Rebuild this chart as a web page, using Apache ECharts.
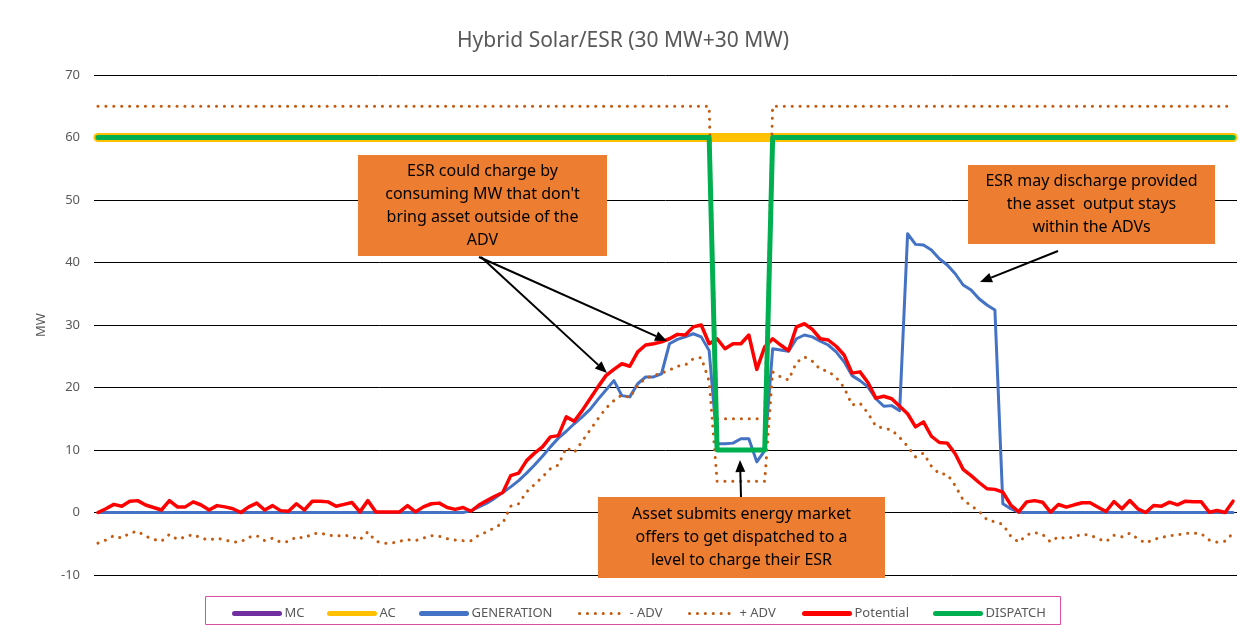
<!DOCTYPE html>
<html>
<head>
<meta charset="utf-8">
<title>Hybrid Solar/ESR</title>
<script src="https://cdn.jsdelivr.net/npm/echarts@6/dist/echarts.min.js"></script>
<style>
html, body { margin: 0; padding: 0; background: #fff; }
#chart { width: 1246px; height: 628px; }
</style>
</head>
<body>
<div id="chart"></div>
<script>
// 144 ten-minute intervals of one day
const categories = [];
for (let h = 0; h < 24; h++) {
  for (let m = 0; m < 60; m += 10) {
    categories.push(String(h).padStart(2, '0') + ':' + String(m).padStart(2, '0'));
  }
}

const mc = [
  60,60,60,60,60,60,60,60,60,60,60,60,60,60,60,60,60,60,60,60,60,60,60,60,
  60,60,60,60,60,60,60,60,60,60,60,60,60,60,60,60,60,60,60,60,60,60,60,60,
  60,60,60,60,60,60,60,60,60,60,60,60,60,60,60,60,60,60,60,60,60,60,60,60,
  60,60,60,60,60,60,60,60,60,60,60,60,60,60,60,60,60,60,60,60,60,60,60,60,
  60,60,60,60,60,60,60,60,60,60,60,60,60,60,60,60,60,60,60,60,60,60,60,60,
  60,60,60,60,60,60,60,60,60,60,60,60,60,60,60,60,60,60,60,60,60,60,60,60
];
const ac = [
  60,60,60,60,60,60,60,60,60,60,60,60,60,60,60,60,60,60,60,60,60,60,60,60,
  60,60,60,60,60,60,60,60,60,60,60,60,60,60,60,60,60,60,60,60,60,60,60,60,
  60,60,60,60,60,60,60,60,60,60,60,60,60,60,60,60,60,60,60,60,60,60,60,60,
  60,60,60,60,60,60,60,60,60,60,60,60,60,60,60,60,60,60,60,60,60,60,60,60,
  60,60,60,60,60,60,60,60,60,60,60,60,60,60,60,60,60,60,60,60,60,60,60,60,
  60,60,60,60,60,60,60,60,60,60,60,60,60,60,60,60,60,60,60,60,60,60,60,60
];
const generation = [
  0,0,0,0,0,0,0,0,0,0,0,0,0,0,0,0,0,0,0,0,0,0,0,0,
  0,0,0,0,0,0,0,0,0,0,0,0,0,0,0,0,0,0,0,0,0,0,0,0.3,
  0.9,1.5,2.3,3.2,4.1,5.1,6.3,7.6,9.0,10.5,11.9,13.0,14.2,15.3,16.5,18.1,19.6,21.1,18.7,18.5,20.6,21.7,21.7,22.2,
  27.0,27.7,28.1,28.6,28.1,25.9,11.0,11.0,11.1,11.8,11.8,8.1,9.9,26.2,26.0,25.8,27.8,28.4,28.1,27.4,26.8,25.7,24.1,21.9,
  21.1,20.1,18.2,17.0,17.1,16.3,44.6,42.9,42.8,42.0,40.6,39.6,38.2,36.4,35.6,34.2,33.2,32.4,1.4,0.6,0,0,0,0,
  0,0,0,0,0,0,0,0,0,0,0,0,0,0,0,0,0,0,0,0,0,0,0,0
];
const minusAdv = [
  -4.9,-4.4,-3.7,-4.1,-3.3,-3.0,-3.8,-4.3,-4.6,-3.5,-4.3,-3.9,-3.5,-4.1,-4.4,-4.1,-4.4,-4.7,-4.7,-3.95,-3.7,-4.5,-4.1,-4.75,
  -4.65,-3.9,-4.1,-3.4,-3.3,-3.6,-3.8,-3.6,-3.9,-4.35,-3.1,-4.6,-4.9,-4.9,-4.6,-4.35,-4.5,-4.1,-3.7,-3.8,-4.2,-4.4,-4.5,-4.5,
  -3.6,-3.1,-2.4,-1.7,1.0,1.4,3.3,4.5,5.7,7.0,7.6,10.4,9.6,11.4,13.2,15.0,16.7,17.9,18.8,18.4,20.3,21.5,21.9,22.3,
  22.8,23.4,23.6,24.6,24.8,21.0,5,5,5,5,5,5,5,22.5,21.7,21.2,24.0,24.9,24.2,22.9,22.6,21.6,20.0,17.2,
  17.5,15.9,13.8,13.5,13.2,12.0,10.6,8.9,9.5,7.4,6.2,6.1,4.3,2.0,1.1,0.2,-1.15,-1.5,-1.9,-3.8,-4.75,-3.6,-3.2,-3.5,
  -4.7,-3.85,-4.2,-3.85,-3.5,-3.6,-4.2,-4.65,-3.65,-3.9,-3.3,-4.2,-4.9,-4.3,-4.0,-3.7,-3.6,-3.3,-3.3,-3.4,-4.4,-4.75,-4.6,-3.3
];
const plusAdv = [
  65,65,65,65,65,65,65,65,65,65,65,65,65,65,65,65,65,65,65,65,65,65,65,65,
  65,65,65,65,65,65,65,65,65,65,65,65,65,65,65,65,65,65,65,65,65,65,65,65,
  65,65,65,65,65,65,65,65,65,65,65,65,65,65,65,65,65,65,65,65,65,65,65,65,
  65,65,65,65,65,65,15,15,15,15,15,15,15,65,65,65,65,65,65,65,65,65,65,65,
  65,65,65,65,65,65,65,65,65,65,65,65,65,65,65,65,65,65,65,65,65,65,65,65,
  65,65,65,65,65,65,65,65,65,65,65,65,65,65,65,65,65,65,65,65,65,65,65,65
];
const potential = [
  0,0.6,1.3,1.0,1.8,1.9,1.2,0.8,0.4,1.9,0.9,0.9,1.7,1.2,0.4,1.1,0.9,0.6,0.0,0.9,1.5,0.4,1.1,0.3,
  0.2,1.4,0.4,1.8,1.8,1.7,1.0,1.3,1.6,0.1,1.9,0.1,0.1,0.1,0.1,1.1,0.1,0.9,1.4,1.5,0.8,0.5,0.8,0.2,
  1.2,1.9,2.6,3.2,5.9,6.3,8.3,9.5,10.5,12.1,12.3,15.3,14.6,16.3,18.2,20.1,21.9,22.9,23.8,23.4,25.7,26.8,27.0,27.3,
  27.8,28.5,28.4,29.7,30.0,27.0,27.8,26.2,27.0,27.0,28.4,22.9,26.5,27.8,26.8,25.9,29.7,30.2,29.3,27.8,27.6,26.6,25.2,22.3,
  22.5,20.8,18.3,18.6,18.2,17.0,15.8,13.7,14.5,12.2,11.2,11.1,9.4,6.9,5.9,4.8,3.8,3.7,3.25,1.2,0.1,1.7,1.9,1.65,
  0.05,1.28,0.85,1.23,1.55,1.55,0.85,0.16,1.76,0.59,1.92,0.59,0,1.12,1.01,1.65,1.23,1.81,1.71,1.71,0.05,0.32,0,1.81
];
const dispatch = [
  60,60,60,60,60,60,60,60,60,60,60,60,60,60,60,60,60,60,60,60,60,60,60,60,
  60,60,60,60,60,60,60,60,60,60,60,60,60,60,60,60,60,60,60,60,60,60,60,60,
  60,60,60,60,60,60,60,60,60,60,60,60,60,60,60,60,60,60,60,60,60,60,60,60,
  60,60,60,60,60,60,10,10,10,10,10,10,10,60,60,60,60,60,60,60,60,60,60,60,
  60,60,60,60,60,60,60,60,60,60,60,60,60,60,60,60,60,60,60,60,60,60,60,60,
  60,60,60,60,60,60,60,60,60,60,60,60,60,60,60,60,60,60,60,60,60,60,60,60
];

const FONT = '"Noto Sans", "DejaVu Sans", sans-serif';
const GREY = '#595959';
const dots = [0.1, 7.8];

function line(name, data, color, width, type) {
  return {
    name: name,
    type: 'line',
    data: data,
    symbol: 'none',
    smooth: false,
    lineStyle: { color: color, width: width, type: type || 'solid', cap: 'round', join: 'round' },
    itemStyle: { color: color },
    emphasis: { disabled: true }
  };
}

function arrow(x1, y1, x2, y2) {
  const a = Math.atan2(y2 - y1, x2 - x1);
  const len = 12, half = 5;
  const bx = x2 - len * Math.cos(a), by = y2 - len * Math.sin(a);
  const px = -Math.sin(a) * half, py = Math.cos(a) * half;
  return [
    { type: 'line', z: 100, shape: { x1: x1, y1: y1, x2: bx, y2: by }, style: { stroke: '#000', lineWidth: 2 } },
    { type: 'polygon', z: 100, shape: { points: [[x2, y2], [bx + px, by + py], [bx - px, by - py]] }, style: { fill: '#000' } }
  ];
}

function note(x, y, w, h, text) {
  return [
    { type: 'rect', z: 100, shape: { x: x, y: y, width: w, height: h }, style: { fill: '#ED7D31' } },
    { type: 'text', z: 101, x: x + w / 2, y: y + h / 2,
      style: { text: text, fill: '#000', font: '16px ' + FONT, align: 'center', verticalAlign: 'middle', lineHeight: 23 } }
  ];
}

function legendItem(name, left, width, type) {
  return {
    data: [name],
    left: left,
    top: 602,
    itemWidth: 45,
    itemHeight: 14,
    selectedMode: false,
    itemStyle: { color: 'rgba(0,0,0,0)', borderWidth: 0, opacity: 0 },
    lineStyle: { width: width, type: type || 'inherit', cap: 'round' },
    textStyle: { color: GREY, fontSize: 13, fontFamily: FONT }
  };
}

const chart = echarts.init(document.getElementById('chart'));
chart.setOption({
  animation: false,
  backgroundColor: '#fff',
  textStyle: { fontFamily: FONT },
  title: {
    text: 'Hybrid Solar/ESR (30 MW+30 MW)',
    left: 'center',
    top: 26,
    textStyle: { color: GREY, fontSize: 21, fontWeight: 'normal', fontFamily: FONT }
  },
  legend: [
    legendItem('MC', 227, 5),
    legendItem('AC', 322, 5),
    legendItem('GENERATION', 414, 5),
    legendItem('- ADV', 573, 3, dots),
    legendItem('+ ADV', 683, 3, dots),
    legendItem('Potential', 797, 5),
    legendItem('DISPATCH', 928, 5)
  ],
  grid: { left: 94, right: 9, top: 75, bottom: 53 },
  xAxis: {
    type: 'category',
    data: categories,
    boundaryGap: true,
    axisLine: { show: false },
    axisTick: { show: false },
    axisLabel: { show: false },
    splitLine: { show: false }
  },
  yAxis: {
    type: 'value',
    min: -10,
    max: 70,
    interval: 10,
    name: 'MW',
    nameLocation: 'middle',
    nameGap: 46,
    nameTextStyle: { color: GREY, fontSize: 13, fontFamily: FONT },
    axisLine: { show: false },
    axisTick: { show: false },
    axisLabel: { color: GREY, fontSize: 13, margin: 14, fontFamily: FONT },
    splitLine: { lineStyle: { color: '#000', width: 1 } }
  },
  series: [
    line('MC', mc, '#7030A0', 4),
    line('AC', ac, '#FFC000', 9),
    line('GENERATION', generation, '#4472C4', 3),
    line('- ADV', minusAdv, '#C55A11', 3, dots),
    line('+ ADV', plusAdv, '#C55A11', 3, dots),
    line('Potential', potential, '#FF0000', 3.5),
    line('DISPATCH', dispatch, '#00B050', 5)
  ],
  graphic: {
    elements: [
      { type: 'rect', z: 50, shape: { x: 205.5, y: 596.5, width: 855, height: 28 },
        style: { fill: 'none', stroke: '#D94FA8', lineWidth: 1 } }
    ]
      .concat(note(358, 155, 249, 101, 'ESR could charge by\nconsuming MW that don\'t\nbring asset outside of the\nADV'))
      .concat(note(968, 165, 247, 79, 'ESR may discharge provided\nthe asset  output stays\nwithin the ADVs'))
      .concat(note(598, 497, 287, 81, 'Asset submits energy market\noffers to get dispatched to a\nlevel to charge their ESR'))
      .concat(arrow(481, 257, 607, 373))
      .concat(arrow(479, 257, 667, 341))
      .concat(arrow(1058, 251, 980, 282))
      .concat(arrow(741, 497, 740, 460))
  }
});
</script>
</body>
</html>
